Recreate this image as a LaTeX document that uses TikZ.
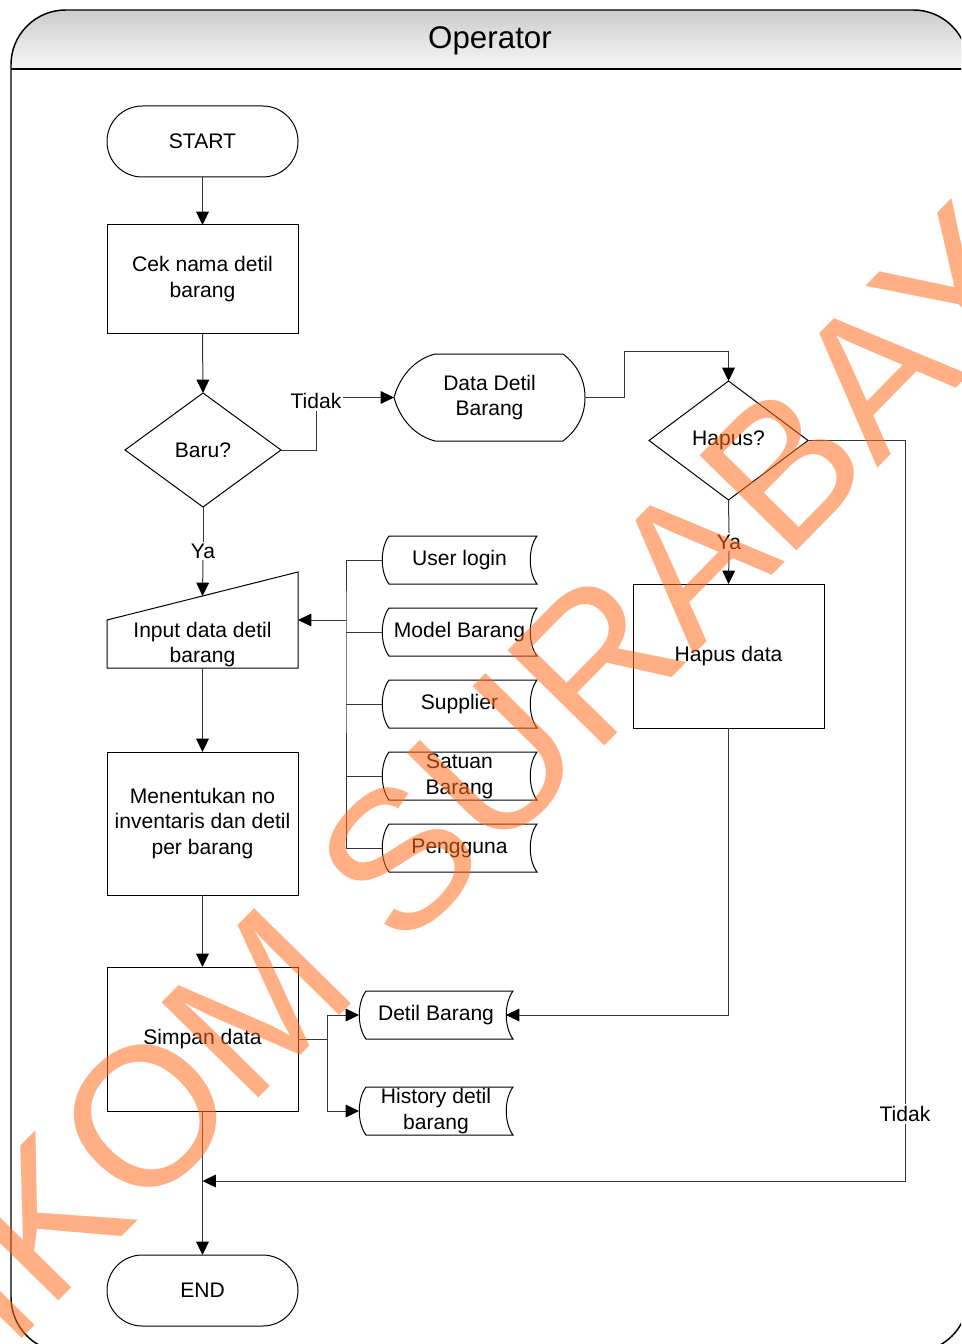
\documentclass[tikz,border=0pt]{standalone}
\usepackage{fontspec}
\setmainfont{Liberation Sans}
\usetikzlibrary{calc,arrows.meta}
\definecolor{wmcol}{RGB}{255,110,30}
\definecolor{lncol}{RGB}{55,55,55}
\newcommand{\bodyfont}{\fontsize{15.8}{19.3}\selectfont}
\newcommand{\storeshape}[1]{\draw[shp] ($(#1.north west)+(7,0)$) -- (#1.north east)
  .. controls ($(#1.east)+(-9,-12)$) and ($(#1.east)+(-9,12)$) .. (#1.south east)
  -- ($(#1.south west)+(7,0)$)
  .. controls ($(#1.west)+(-2,12)$) and ($(#1.west)+(-2,-12)$) .. cycle;}
\begin{document}
\begin{tikzpicture}[x=0.75pt,y=-0.75pt,
  shp/.style={draw=black, line width=0.75pt},
  ghost/.style={inner sep=0pt, outer sep=0pt, align=center, font=\bodyfont},
  box/.style={ghost, draw=black, line width=0.75pt, minimum width=143.25pt},
  store/.style={ghost, minimum width=116.25pt, minimum height=36pt},
  lbl/.style={inner sep=1.2pt, font=\bodyfont},
  con/.style={draw=lncol, line width=0.75pt},
  arr/.style={con, -{Triangle[length=10pt,width=9.5pt,color=black]}},
]
\useasboundingbox (0,0) rectangle (961,1344);
\clip (0,0) rectangle (961,1344);

% swimlane frame
\begin{scope}
  \clip[rounded corners=41pt] (11,10) rectangle (968,1352);
  \fill[white] (11,10) rectangle (968,1352);
  \shade[top color=black!20, bottom color=black!3] (11,10) rectangle (968,69);
\end{scope}
\draw[line width=1.1pt, rounded corners=41pt] (11,10) rectangle (968,1352);
\draw[line width=1.1pt] (11,69) -- (968,69);
\node[font=\fontsize{23.5}{28}\selectfont] (title) at (490,41) {Operator};

% left column
\node[box, rounded corners=26.5pt, minimum height=53.25pt] (start) at (202.5,141.5) {START};
\node[box, minimum height=81pt] (cek) at (202.5,279) {Cek nama detil\\barang};
\node[ghost, minimum width=117pt, minimum height=85.5pt] (baru) at (203,450) {Baru?};
\draw[shp] (baru.north) -- (baru.east) -- (baru.south) -- (baru.west) -- cycle;
\node[ghost, minimum width=143.25pt, minimum height=72pt] (inp) at (202.5,620) {};
\draw[shp] (inp.south west) -- ($(inp.north west)+(0,48)$) -- (inp.north east) -- (inp.south east) -- cycle;
\node[ghost] (inptxt) at (202.5,644.5) {Input data detil\\barang};
\node[box, minimum height=107.25pt] (men) at (202.5,823.5) {Menentukan no\\inventaris dan detil\\per barang};
\node[box, minimum height=108pt] (sim) at (202.5,1039) {Simpan data};
\node[box, rounded corners=26.5pt, minimum height=53.25pt] (end) at (202.5,1290.5) {END};

% display
\node[ghost, minimum width=143.25pt, minimum height=65.25pt] (dd) at (489.5,397.5) {Data Detil\\Barang};
\draw[shp, shift={(dd.center)}] (-54.5,-43.5) -- (73.5,-43.5)
  .. controls (88.5,-32) and (95.5,-17) .. (95.5,0)
  .. controls (95.5,17) and (88.5,32) .. (73.5,43.5)
  -- (-54.5,43.5)
  .. controls (-79.5,37) and (-91.5,15) .. (-95.5,0)
  .. controls (-91.5,-15) and (-79.5,-37) .. cycle;

% right column
\node[ghost, minimum width=119.25pt, minimum height=89.25pt] (hap) at (728.5,440.5) {Hapus?};
\draw[shp] (hap.north) -- (hap.east) -- (hap.south) -- (hap.west) -- cycle;
\node[box, minimum height=108pt] (hd) at (728.5,656) {Hapus data};

% stores
\node[store] (ul) at (459.5,560) {User login};
\node[store] (mb) at (459.5,632) {Model Barang};
\node[store] (su) at (459.5,704) {Supplier};
\node[store] (sb) at (459.5,776) {Satuan\\Barang};
\node[store] (pg) at (459.5,848) {Pengguna};
\node[store, minimum width=115.5pt] (db) at (436,1015) {Detil Barang};
\node[store, minimum width=115.5pt] (hi) at (436,1111) {History detil\\barang};
\foreach \s in {ul,mb,su,sb,pg,db,hi} {\storeshape{\s}}

% labels
\node[lbl] (tidak1) at (316,401) {Tidak};
\node[lbl] (ya1) at (203,551) {Ya};
\node[lbl] (ya2) at (729,542) {Ya};
\node[lbl] (tidak2) at (905,1114) {Tidak};

% connectors
\draw[arr] (start.south) -- (cek.north);
\draw[arr] (cek.south) -- (baru.north);
\draw[con] (baru.east) -| (tidak1.south);
\draw[arr] (tidak1.east |- dd.west) -- (dd.west);
\coordinate (j1) at (624,351);
\draw[arr] (dd.east) -| (j1) -| (hap.north);
\draw[con] (hap.south) -- (ya2.north);
\draw[arr] (ya2.south) -- (hd.north);
\draw[con] (hap.east) -| (tidak2.north);
\coordinate (j2) at (202.5,1181);
\draw[arr] (tidak2.south) |- (j2);
\draw[arr] (hd.south) |- ($(db.east)+(-7,0)$);
\draw[con] (baru.south) -- (ya1.north);
\draw[arr] (ya1.south) -- ($(inp.north)+(0,24)$);
\draw[arr] (inp.south) -- (men.north);
\draw[arr] (men.south) -- (sim.north);
\draw[arr] (sim.south) -- (end.north);
\coordinate (j3) at (327,1039);
\draw[con] (sim.east) -- (j3);
\draw[arr] (j3) |- (db.west);
\draw[arr] (j3) |- (hi.west);
\coordinate (bus) at (346,620);
\draw[con] (ul.west) -| (bus) |- (pg.west);
\foreach \s in {mb,su,sb} {\draw[con] (\s.west) -- (\s.west -| bus);}
\draw[arr] (bus) -- (inp.east);

% watermark
\node[rotate=45.5, inner sep=0pt, text=wmcol, text opacity=0.55,
  font=\fontsize{148}{148}\selectfont, text height=106pt, text depth=0pt]
  (wmk) at (433,820) {STIKOM SURABAYA};
\end{tikzpicture}
\end{document}
